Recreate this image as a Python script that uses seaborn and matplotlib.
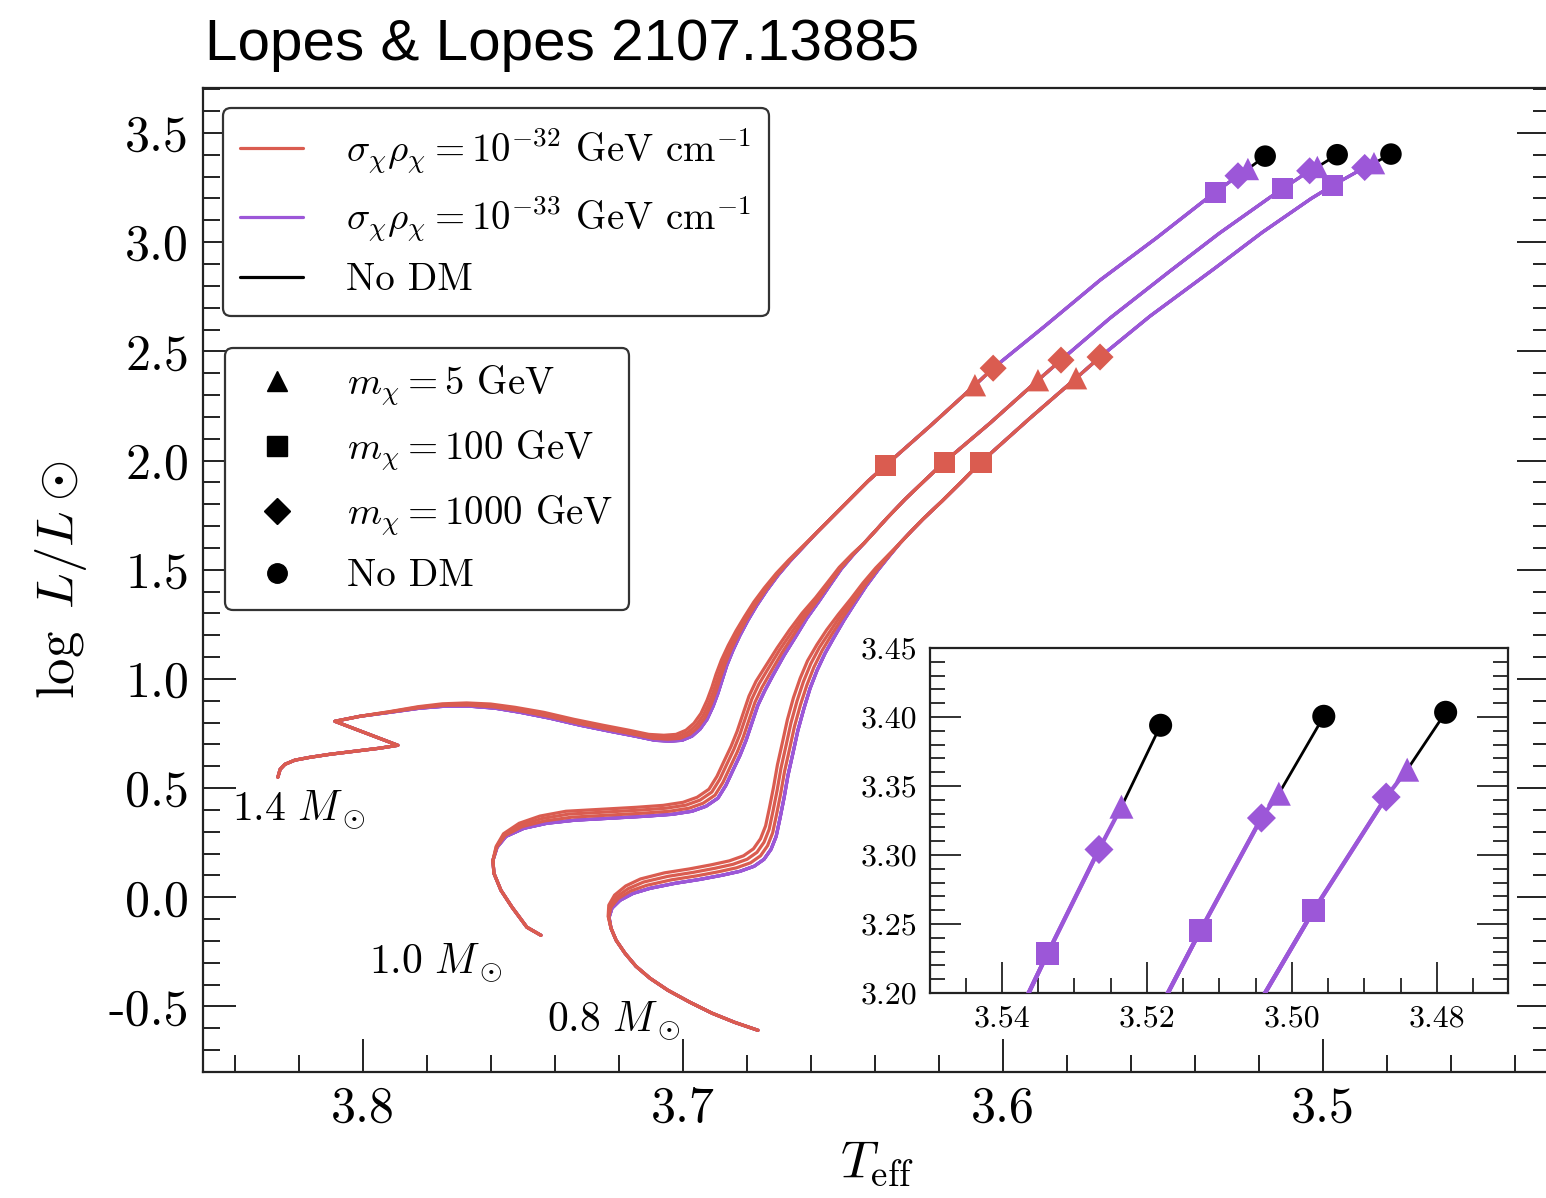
import numpy as np
import pandas as pd
import matplotlib
matplotlib.use('Agg')
import matplotlib.pyplot as plt
import seaborn as sns
from matplotlib.lines import Line2D
from matplotlib.ticker import MultipleLocator, FormatStrFormatter

sns.set_style('ticks')
plt.rcParams['font.family'] = 'serif'
plt.rcParams['font.serif'] = ['cmr10']
plt.rcParams['mathtext.fontset'] = 'cm'
plt.rcParams['axes.unicode_minus'] = False
plt.rcParams['axes.formatter.use_mathtext'] = False
for k in ['text.color', 'axes.labelcolor', 'xtick.color', 'ytick.color']:
    plt.rcParams[k] = 'black'

RED = '#da5c50'
PURPLE = '#9c57d8'
BLACK = '#000000'

# ---------------- data (log Teff, log L/Lsun) ----------------
masses = ['1.4', '1.0', '0.8']
mass_labels = [r'$1.4\ M_\odot$', r'$1.0\ M_\odot$', r'$0.8\ M_\odot$']
label_x = [3.841, 3.798, 3.7425]
label_y = [0.40, -0.30, -0.565]

# ---- 1.4 Msun ----
ms_14_x = [3.8266, 3.8259, 3.8244, 3.8213, 3.8166, 3.8103, 3.8025, 3.7947, 3.7891, 3.8088, 3.8009]
ms_14_y = [0.550, 0.586, 0.609, 0.628, 0.641, 0.655, 0.669, 0.683, 0.696, 0.806, 0.829]
sgb_14_x = [3.7916, 3.7822, 3.7744, 3.7666, 3.7588, 3.7509, 3.7416, 3.7322, 3.7228, 3.7150,
            3.7088, 3.7041, 3.7003, 3.6972, 3.6947, 3.6925, 3.6906, 3.6891, 3.6878, 3.6863,
            3.6844, 3.6822, 3.6797, 3.6769, 3.6738, 3.6703, 3.6666, 3.6625]
sgb_14_y = [0.847, 0.866, 0.875, 0.875, 0.866, 0.847, 0.820, 0.788, 0.760, 0.738,
            0.719, 0.715, 0.719, 0.738, 0.770, 0.815, 0.875, 0.934, 0.994, 1.063,
            1.131, 1.200, 1.269, 1.338, 1.406, 1.475, 1.539, 1.603]
sgb_14_r5_x = [3.7918, 3.7827, 3.7752, 3.7676, 3.7601, 3.7525, 3.7435, 3.7341, 3.7247, 3.7169,
               3.7107, 3.7060, 3.7022, 3.6991, 3.6966, 3.6944, 3.6925, 3.6910, 3.6897, 3.6880,
               3.6859, 3.6835, 3.6808, 3.6779, 3.6746, 3.6709, 3.6670, 3.6627]
sgb_14_r5_y = [0.850, 0.873, 0.886, 0.890, 0.885, 0.870, 0.847, 0.815, 0.787, 0.765,
               0.746, 0.742, 0.746, 0.765, 0.797, 0.842, 0.902, 0.961, 1.021, 1.087,
               1.153, 1.219, 1.285, 1.352, 1.417, 1.483, 1.544, 1.606]
sgb_14_r100_x = [3.7917, 3.7825, 3.7749, 3.7673, 3.7596, 3.7519, 3.7428, 3.7334, 3.7240, 3.7162,
                 3.7100, 3.7053, 3.7015, 3.6984, 3.6959, 3.6937, 3.6918, 3.6903, 3.6890, 3.6874,
                 3.6854, 3.6830, 3.6804, 3.6775, 3.6743, 3.6707, 3.6668, 3.6626]
sgb_14_r100_y = [0.849, 0.871, 0.882, 0.885, 0.879, 0.862, 0.838, 0.806, 0.778, 0.756,
                 0.737, 0.733, 0.737, 0.756, 0.788, 0.833, 0.893, 0.952, 1.012, 1.079,
                 1.145, 1.213, 1.280, 1.347, 1.413, 1.480, 1.543, 1.605]
sgb_14_r1000_x = [3.7917, 3.7824, 3.7746, 3.7669, 3.7592, 3.7514, 3.7422, 3.7328, 3.7234, 3.7156,
                  3.7094, 3.7047, 3.7009, 3.6978, 3.6953, 3.6931, 3.6912, 3.6897, 3.6884, 3.6868,
                  3.6849, 3.6826, 3.6801, 3.6772, 3.6740, 3.6705, 3.6667, 3.6626]
sgb_14_r1000_y = [0.848, 0.868, 0.879, 0.880, 0.872, 0.855, 0.829, 0.797, 0.769, 0.747,
                  0.728, 0.724, 0.728, 0.747, 0.779, 0.824, 0.884, 0.943, 1.003, 1.071,
                  1.138, 1.206, 1.274, 1.343, 1.410, 1.478, 1.541, 1.604]
rgb_14_x = [3.6581, 3.6528, 3.6475, 3.6422, 3.6366, 3.6228, 3.6088, 3.6031, 3.5870, 3.5697,
            3.5520, 3.5363, 3.5337, 3.5266, 3.5235, 3.5181]
rgb_14_y = [1.672, 1.750, 1.828, 1.906, 1.979, 2.158, 2.345, 2.423, 2.615, 2.826,
            3.020, 3.200, 3.2285, 3.304, 3.335, 3.394]

# ---- 1.0 Msun ----
ms_10_x = [3.7444, 3.7488, 3.7534, 3.7569, 3.7591, 3.7594]
ms_10_y = [-0.174, -0.137, -0.046, 0.032, 0.110, 0.169]
sgb_10_x = [3.7581, 3.7553, 3.7497, 3.7425, 3.7338, 3.7228, 3.7119, 3.7034, 3.6972, 3.6928,
            3.6891, 3.6866, 3.6844, 3.6822, 3.6803, 3.6784, 3.6766, 3.6744, 3.6719, 3.6684,
            3.6647, 3.6613, 3.6575, 3.6541, 3.6506, 3.6469]
sgb_10_y = [0.229, 0.279, 0.316, 0.339, 0.353, 0.362, 0.371, 0.380, 0.394, 0.417,
            0.454, 0.513, 0.582, 0.650, 0.719, 0.802, 0.880, 0.948, 1.017, 1.109,
            1.196, 1.278, 1.356, 1.429, 1.503, 1.567]
sgb_10_r5_x = [3.7584, 3.7561, 3.7512, 3.7447, 3.7366, 3.7256, 3.7147, 3.7062, 3.7000, 3.6956,
               3.6919, 3.6894, 3.6872, 3.6850, 3.6831, 3.6812, 3.6794, 3.6772, 3.6744, 3.6706,
               3.6667, 3.6628, 3.6586, 3.6549, 3.6512, 3.6472]
sgb_10_r5_y = [0.233, 0.291, 0.339, 0.372, 0.394, 0.403, 0.412, 0.421, 0.435, 0.458,
               0.495, 0.554, 0.623, 0.691, 0.760, 0.843, 0.921, 0.989, 1.054, 1.142,
               1.225, 1.301, 1.372, 1.441, 1.511, 1.571]
sgb_10_r100_x = [3.7583, 3.7559, 3.7507, 3.7440, 3.7357, 3.7247, 3.7138, 3.7053, 3.6991, 3.6947,
                 3.6910, 3.6885, 3.6863, 3.6841, 3.6822, 3.6803, 3.6785, 3.6763, 3.6736, 3.6699,
                 3.6660, 3.6623, 3.6583, 3.6547, 3.6510, 3.6471]
sgb_10_r100_y = [0.232, 0.287, 0.331, 0.361, 0.381, 0.390, 0.399, 0.408, 0.422, 0.445,
                 0.482, 0.541, 0.610, 0.678, 0.747, 0.830, 0.908, 0.976, 1.042, 1.131,
                 1.215, 1.293, 1.367, 1.437, 1.509, 1.570]
sgb_10_r1000_x = [3.7582, 3.7556, 3.7502, 3.7432, 3.7347, 3.7237, 3.7128, 3.7043, 3.6981, 3.6937,
                  3.6900, 3.6875, 3.6853, 3.6831, 3.6812, 3.6793, 3.6775, 3.6753, 3.6727, 3.6691,
                  3.6653, 3.6618, 3.6579, 3.6544, 3.6508, 3.6470]
sgb_10_r1000_y = [0.230, 0.283, 0.324, 0.350, 0.367, 0.376, 0.385, 0.394, 0.408, 0.431,
                  0.468, 0.527, 0.596, 0.664, 0.733, 0.816, 0.894, 0.962, 1.029, 1.120,
                  1.206, 1.286, 1.361, 1.433, 1.506, 1.568]
rgb_10_x = [3.6434, 3.6397, 3.6363, 3.6306, 3.6244, 3.6184, 3.6041, 3.5891, 3.5819, 3.5666,
            3.5478, 3.5325, 3.5171, 3.5126, 3.5042, 3.5018, 3.4956]
rgb_10_y = [1.622, 1.681, 1.736, 1.823, 1.910, 1.993, 2.171, 2.368, 2.460, 2.652,
            2.868, 3.040, 3.200, 3.2454, 3.3268, 3.3444, 3.4005]

# ---- 0.8 Msun ----
ms_08_x = [3.6766, 3.6838, 3.6909, 3.6978, 3.7047, 3.7103, 3.7147, 3.7181, 3.7209, 3.7225]
ms_08_y = [-0.609, -0.573, -0.531, -0.481, -0.426, -0.371, -0.316, -0.257, -0.197, -0.142]
sgb_08_x = [3.7231, 3.7222, 3.7197, 3.7156, 3.7103, 3.7025, 3.6947, 3.6878, 3.6822, 3.6778,
            3.6747, 3.6725, 3.6709, 3.6697, 3.6684, 3.6672, 3.6656, 3.6641, 3.6622, 3.6603,
            3.6581, 3.6556, 3.6528, 3.6497, 3.6463, 3.6428, 3.6391, 3.6356]
sgb_08_y = [-0.092, -0.050, -0.014, 0.018, 0.041, 0.064, 0.082, 0.101, 0.119, 0.142,
            0.174, 0.220, 0.279, 0.362, 0.458, 0.559, 0.664, 0.765, 0.866, 0.957,
            1.040, 1.118, 1.191, 1.269, 1.347, 1.425, 1.498, 1.562]
sgb_08_r5_x = [3.7234, 3.7232, 3.7214, 3.7179, 3.7133, 3.7058, 3.6980, 3.6911, 3.6855, 3.6811,
               3.6780, 3.6758, 3.6742, 3.6730, 3.6717, 3.6705, 3.6689, 3.6674, 3.6655, 3.6634,
               3.6611, 3.6582, 3.6551, 3.6515, 3.6476, 3.6438, 3.6398, 3.6359]
sgb_08_r5_y = [-0.087, -0.036, 0.010, 0.052, 0.084, 0.112, 0.130, 0.149, 0.167, 0.190,
               0.222, 0.268, 0.327, 0.410, 0.506, 0.607, 0.712, 0.813, 0.914, 1.003,
               1.083, 1.156, 1.225, 1.295, 1.366, 1.439, 1.508, 1.567]
sgb_08_r100_x = [3.7233, 3.7229, 3.7208, 3.7171, 3.7123, 3.7047, 3.6969, 3.6900, 3.6844, 3.6800,
                 3.6769, 3.6747, 3.6731, 3.6719, 3.6706, 3.6694, 3.6678, 3.6663, 3.6644, 3.6624,
                 3.6601, 3.6574, 3.6543, 3.6509, 3.6472, 3.6435, 3.6395, 3.6358]
sgb_08_r100_y = [-0.089, -0.040, 0.002, 0.040, 0.070, 0.096, 0.114, 0.133, 0.151, 0.174,
                 0.206, 0.252, 0.311, 0.394, 0.490, 0.591, 0.696, 0.797, 0.898, 0.987,
                 1.069, 1.144, 1.213, 1.287, 1.360, 1.435, 1.504, 1.565]
sgb_08_r1000_x = [3.7232, 3.7225, 3.7203, 3.7164, 3.7113, 3.7036, 3.6958, 3.6889, 3.6833, 3.6789,
                  3.6758, 3.6736, 3.6720, 3.6708, 3.6695, 3.6683, 3.6667, 3.6652, 3.6633, 3.6613,
                  3.6591, 3.6565, 3.6536, 3.6503, 3.6467, 3.6431, 3.6393, 3.6357]
sgb_08_r1000_y = [-0.090, -0.045, -0.006, 0.029, 0.055, 0.080, 0.098, 0.117, 0.135, 0.158,
                  0.190, 0.236, 0.295, 0.378, 0.474, 0.575, 0.680, 0.781, 0.882, 0.972,
                  1.054, 1.131, 1.202, 1.278, 1.353, 1.430, 1.501, 1.563]
rgb_08_x = [3.6322, 3.6284, 3.6250, 3.6191, 3.6131, 3.6069, 3.5916, 3.5772, 3.5697, 3.5541,
            3.5338, 3.5190, 3.5037, 3.4970, 3.4870, 3.4841, 3.4788]
rgb_08_y = [1.622, 1.681, 1.732, 1.814, 1.901, 1.993, 2.194, 2.377, 2.474, 2.661,
            2.881, 3.045, 3.200, 3.2599, 3.342, 3.3618, 3.4034]

# ---- end-point markers (order: 1.4, 1.0, 0.8) ----
red_tri_x = [3.6088, 3.5891, 3.5772]
red_tri_y = [2.345, 2.368, 2.377]
red_sq_x = [3.6366, 3.6184, 3.6069]
red_sq_y = [1.979, 1.993, 1.993]
red_dia_x = [3.6031, 3.5819, 3.5697]
red_dia_y = [2.423, 2.460, 2.474]
pur_tri_x = [3.5235, 3.5018, 3.4841]
pur_tri_y = [3.335, 3.3444, 3.3618]
pur_sq_x = [3.5337, 3.5126, 3.4970]
pur_sq_y = [3.2285, 3.2454, 3.2599]
pur_dia_x = [3.5266, 3.5042, 3.4870]
pur_dia_y = [3.304, 3.3268, 3.342]
nodm_x = [3.5181, 3.4956, 3.4788]
nodm_y = [3.394, 3.4005, 3.4034]

# ---------------- assemble tracks ----------------
track_parts = {
    '1.4': dict(ms=(ms_14_x, ms_14_y), rgb=(rgb_14_x, rgb_14_y),
                sgb={'base': (sgb_14_x, sgb_14_y), 'r5': (sgb_14_r5_x, sgb_14_r5_y),
                     'r100': (sgb_14_r100_x, sgb_14_r100_y), 'r1000': (sgb_14_r1000_x, sgb_14_r1000_y)}),
    '1.0': dict(ms=(ms_10_x, ms_10_y), rgb=(rgb_10_x, rgb_10_y),
                sgb={'base': (sgb_10_x, sgb_10_y), 'r5': (sgb_10_r5_x, sgb_10_r5_y),
                     'r100': (sgb_10_r100_x, sgb_10_r100_y), 'r1000': (sgb_10_r1000_x, sgb_10_r1000_y)}),
    '0.8': dict(ms=(ms_08_x, ms_08_y), rgb=(rgb_08_x, rgb_08_y),
                sgb={'base': (sgb_08_x, sgb_08_y), 'r5': (sgb_08_r5_x, sgb_08_r5_y),
                     'r100': (sgb_08_r100_x, sgb_08_r100_y), 'r1000': (sgb_08_r1000_x, sgb_08_r1000_y)}),
}

models = [
    ('nodm', 'base', BLACK, (nodm_x, nodm_y), 2),
    ('p100', 'base', PURPLE, (pur_sq_x, pur_sq_y), 3),
    ('p1000', 'base', PURPLE, (pur_dia_x, pur_dia_y), 3),
    ('p5', 'base', PURPLE, (pur_tri_x, pur_tri_y), 3),
    ('r100', 'r100', RED, (red_sq_x, red_sq_y), 4),
    ('r1000', 'r1000', RED, (red_dia_x, red_dia_y), 4),
    ('r5', 'r5', RED, (red_tri_x, red_tri_y), 4),
]

rows = []
for i, m in enumerate(masses):
    parts = track_parts[m]
    for name, var, col, (ex, ey), z in models:
        xs = list(parts['ms'][0]) + list(parts['sgb'][var][0])
        ys = list(parts['ms'][1]) + list(parts['sgb'][var][1])
        rx, ry = parts['rgb']
        for a, b in zip(rx, ry):
            if b < ey[i] - 1e-6:
                xs.append(a); ys.append(b)
        xs.append(ex[i]); ys.append(ey[i])
        for k, (a, b) in enumerate(zip(xs, ys)):
            rows.append(dict(mass=m, model=name, step=k, x=a, y=b))
df = pd.DataFrame(rows)
style = {name: (col, z) for name, var, col, e, z in models}


def draw_tracks(ax, lw_col, lw_black):
    for (m, name), sub in df.groupby(['mass', 'model'], sort=False):
        col, z = style[name]
        sns.lineplot(data=sub, x='x', y='y', sort=False, estimator=None,
                     color=col, linewidth=(lw_black if name == 'nodm' else lw_col),
                     ax=ax, zorder=z, legend=False)


def draw_markers(ax, scale=1.0):
    specs = [
        (red_sq_x, red_sq_y, 's', RED, 230), (red_tri_x, red_tri_y, '^', RED, 260),
        (red_dia_x, red_dia_y, 'D', RED, 190),
        (pur_sq_x, pur_sq_y, 's', PURPLE, 230), (pur_dia_x, pur_dia_y, 'D', PURPLE, 190),
        (pur_tri_x, pur_tri_y, '^', PURPLE, 260),
        (nodm_x, nodm_y, 'o', BLACK, 240),
    ]
    for xs, ys, mk, col, s in specs:
        sns.scatterplot(x=xs, y=ys, marker=mk, color=col, s=s * scale,
                        edgecolor='none', linewidth=0, ax=ax, zorder=6, legend=False)


# ---------------- figure ----------------
W, H = 1546, 1198
fig = plt.figure(figsize=(W / 100, H / 100), dpi=100)
ax = fig.add_axes([203 / W, 1 - 1072 / H, (1550 - 203) / W, (1072 - 88) / H])

draw_tracks(ax, 2.3, 2.0)
draw_markers(ax)

ax.set_xlim(3.85, 3.4291)
ax.set_ylim(-0.80, 3.706)
ax.xaxis.set_major_locator(MultipleLocator(0.1))
ax.xaxis.set_minor_locator(MultipleLocator(0.02))
ax.yaxis.set_major_locator(MultipleLocator(0.5))
ax.yaxis.set_minor_locator(MultipleLocator(0.1))
ax.xaxis.set_major_formatter(FormatStrFormatter('%.1f'))
ax.yaxis.set_major_formatter(FormatStrFormatter('%.1f'))
ax.tick_params(which='both', direction='in', top=False, right=True, width=1.4, color='#222222')
ax.tick_params(which='major', length=24, labelsize=36, pad=10)
ax.tick_params(which='minor', length=12)
for sp in ax.spines.values():
    sp.set_linewidth(1.6)
    sp.set_color('#222222')
ax.set_xlabel(r'$T_{\rm eff}$', fontsize=38, labelpad=6)
ax.set_ylabel(r'$\log\ L/L\odot$', fontsize=38, labelpad=14)

for t, lx, ly in zip(mass_labels, label_x, label_y):
    ax.text(lx, ly, t, fontsize=30, ha='left', va='center', zorder=7)

# legends
h1 = [Line2D([0], [0], color=RED, lw=2.3), Line2D([0], [0], color=PURPLE, lw=2.3),
      Line2D([0], [0], color=BLACK, lw=2.3)]
l1 = [r'$\sigma_\chi\rho_\chi = 10^{-32}$ GeV cm$^{-1}$',
      r'$\sigma_\chi\rho_\chi = 10^{-33}$ GeV cm$^{-1}$', 'No DM']
leg1 = ax.legend(h1, l1, loc='upper left', bbox_to_anchor=(0.0148, 0.9797), borderaxespad=0,
                 fontsize=28, handlelength=1.6, handletextpad=1.12, labelspacing=0.47,
                 borderpad=0.45, frameon=True, fancybox=True, edgecolor='#333333', framealpha=1)
leg1.get_frame().set_linewidth(1.6)
ax.add_artist(leg1)

h2 = [Line2D([0], [0], marker=mk, color='k', ls='none', markersize=ms)
      for mk, ms in [('^', 15), ('s', 14), ('D', 13), ('o', 14)]]
l2 = [r'$m_\chi = 5$ GeV', r'$m_\chi = 100$ GeV', r'$m_\chi = 1000$ GeV', 'No DM']
leg2 = ax.legend(h2, l2, loc='upper left', bbox_to_anchor=(0.0163, 0.7358), borderaxespad=0,
                 fontsize=28, handlelength=1.9, handletextpad=0.85, labelspacing=0.52,
                 borderpad=0.4, frameon=True, fancybox=True, edgecolor='#333333', framealpha=1)
leg2.get_frame().set_linewidth(1.6)

# inset
axi = fig.add_axes([930 / W, 1 - 993 / H, (1508 - 930) / W, (993 - 648) / H])
axi.set_facecolor('white')
draw_tracks(axi, 3.0, 2.0)
draw_markers(axi, 1.15)
axi.set_xlim(3.5499, 3.4702)
axi.set_ylim(3.20, 3.45)
axi.xaxis.set_major_locator(MultipleLocator(0.02))
axi.xaxis.set_minor_locator(MultipleLocator(0.005))
axi.yaxis.set_major_locator(MultipleLocator(0.05))
axi.yaxis.set_minor_locator(MultipleLocator(0.01))
axi.xaxis.set_major_formatter(FormatStrFormatter('%.2f'))
axi.yaxis.set_major_formatter(FormatStrFormatter('%.2f'))
axi.tick_params(which='both', direction='in', top=False, right=True, width=1.3, color='#222222')
axi.tick_params(which='major', length=22, labelsize=23, pad=9)
axi.tick_params(which='minor', length=11)
axi.set_xlabel('')
axi.set_ylabel('')
for sp in axi.spines.values():
    sp.set_linewidth(1.6)
    sp.set_color('#222222')

fig.text(205 / W, 1 - 60 / H, 'Lopes & Lopes 2107.13885', fontsize=42,
         family='Liberation Sans', ha='left', va='baseline', color='black')

fig.savefig('out.png', dpi=100)
